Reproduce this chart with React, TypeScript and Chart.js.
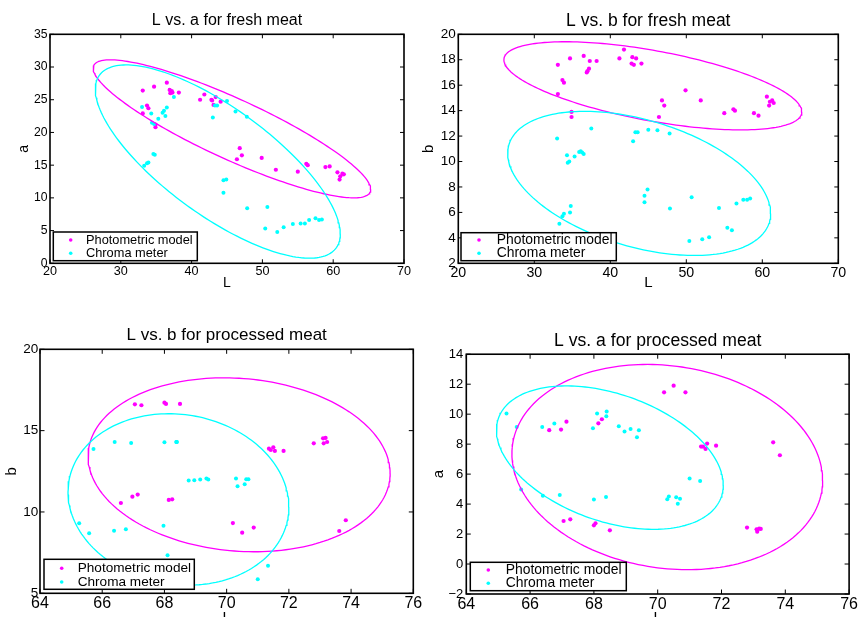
import React, { useEffect, useRef } from 'react';
import { Chart, registerables } from 'chart.js';

Chart.register(...registerables);

const FONT = '"Liberation Sans", Arial, Helvetica, sans-serif';
const MAGENTA = '#ff00ff';
const CYAN = '#00ffff';

// ---------- Fresh meat: Photometric model ----------
const freshPhotoL = [33.1, 33.1, 33.7, 33.9, 34.7, 34.9, 34.9, 36.5, 36.9, 37.0, 37.2, 37.3, 38.2, 41.2, 41.8, 42.8, 42.9, 43.1, 43.4, 44.1, 46.4, 46.8, 47.1, 49.9, 51.9, 55.0, 56.2, 56.4, 58.9, 59.5, 60.6, 60.9, 61.0, 61.3, 61.5];
const freshPhotoA = [26.4, 22.9, 24.1, 23.7, 27.0, 21.2, 20.8, 27.6, 26.5, 26.0, 26.3, 26.1, 26.1, 25.0, 25.8, 25.0, 24.9, 24.2, 25.4, 24.7, 15.9, 17.6, 16.5, 16.1, 14.3, 14.0, 15.2, 15.0, 14.7, 14.8, 13.9, 12.8, 13.3, 13.7, 13.6];
const freshPhotoB = [17.6, 15.3, 16.4, 16.2, 18.1, 13.9, 13.5, 18.3, 17.0, 17.1, 17.3, 17.9, 17.9, 18.1, 18.8, 17.7, 18.2, 17.6, 18.1, 17.7, 13.5, 14.8, 14.4, 15.6, 14.8, 13.8, 14.1, 14.0, 13.8, 13.6, 15.1, 14.4, 14.7, 14.8, 14.6];

// ---------- Fresh meat: Chroma meter ----------
const freshChromaL = [33.0, 33.3, 33.7, 33.9, 34.3, 34.4, 34.6, 34.7, 34.8, 35.3, 35.9, 36.1, 36.3, 36.5, 37.5, 43.0, 43.3, 43.6, 44.5, 44.5, 44.9, 45.0, 46.2, 47.8, 47.85, 50.4, 50.7, 52.1, 53.0, 54.3, 55.4, 56.0, 56.6, 57.5, 58.0, 58.4];
const freshChromaA = [23.9, 14.9, 15.3, 15.4, 22.9, 21.5, 16.7, 21.3, 16.6, 22.1, 23.0, 23.3, 22.5, 23.8, 25.4, 22.3, 24.1, 24.1, 12.7, 10.8, 12.8, 24.8, 23.2, 22.4, 8.4, 5.3, 8.6, 4.8, 5.5, 6.0, 6.1, 6.1, 6.6, 6.9, 6.6, 6.7];
const freshChromaB = [11.8, 5.1, 5.7, 5.9, 10.5, 9.9, 10.0, 6.0, 6.5, 10.4, 10.75, 10.8, 10.7, 10.6, 12.6, 11.6, 12.3, 12.3, 7.3, 6.8, 7.8, 12.5, 12.45, 12.2, 6.3, 3.75, 7.2, 3.9, 4.05, 6.35, 4.8, 4.6, 6.7, 7.0, 7.0, 7.1];

// ---------- Processed meat: Photometric model ----------
const procPhotoL = [66.6, 66.97, 67.05, 67.14, 67.26, 68.0, 68.05, 68.14, 68.25, 68.5, 70.2, 70.5, 70.87, 71.36, 71.42, 71.5, 71.55, 71.83, 72.8, 73.1, 73.12, 73.18, 73.23, 73.62, 73.83];
const procPhotoB = [10.55, 10.94, 16.62, 11.07, 16.56, 16.72, 16.64, 10.74, 10.78, 16.64, 9.32, 8.73, 9.04, 13.89, 13.81, 13.98, 13.75, 13.75, 14.22, 14.53, 14.22, 14.55, 14.3, 8.83, 9.49];
const procPhotoA = [8.93, 8.97, 2.87, 9.5, 2.98, 2.58, 2.72, 9.39, 9.66, 2.25, 11.46, 11.9, 11.46, 7.84, 7.84, 7.68, 8.04, 7.9, 2.43, 2.32, 2.16, 2.36, 2.34, 8.12, 7.26];

// ---------- Processed meat: Chroma meter ----------
const procChromaL = [65.26, 65.58, 65.72, 66.38, 66.4, 66.76, 66.93, 67.97, 68.0, 68.1, 68.38, 68.39, 68.4, 68.78, 68.96, 69.15, 69.35, 69.41, 70.3, 70.35, 70.58, 70.63, 70.7, 71.0, 71.33];
const procChromaB = [9.3, 8.69, 13.87, 8.85, 14.3, 8.93, 14.24, 9.16, 14.28, 7.34, 14.3, 14.3, 14.3, 11.93, 11.95, 11.99, 12.05, 11.99, 12.05, 11.58, 11.7, 12.01, 12.01, 5.86, 6.7];
const procChromaA = [10.04, 9.15, 4.97, 9.15, 4.56, 9.37, 4.61, 9.06, 4.3, 10.04, 4.48, 9.86, 10.17, 9.19, 8.84, 9.01, 8.46, 8.93, 4.32, 4.5, 4.45, 4.03, 4.36, 5.7, 5.54];

// ---------- Confidence ellipses: [centre x, centre y, half-span x, y shift at extreme x, half vertical chord at centre] ----------
const ellFreshAPhoto = [45.7, 20.55, 19.6, -9.25, 5.07];
const ellFreshAChroma = [43.7, 15.55, 17.3, -11.05, 9.8];
const ellFreshBPhoto = [45.6, 15.95, 19.6, -2.04, 2.8];
const ellFreshBChroma = [43.8, 8.28, 17.3, -2.36, 5.15];
const ellProcBPhoto = [70.4, 12.9, 4.855, -0.53, 5.32];
const ellProcBChroma = [68.45, 10.77, 3.55, -0.46, 5.25];
const ellProcAPhoto = [70.3, 6.47, 4.87, -0.89, 6.79];
const ellProcAChroma = [68.5, 7.1, 3.555, -1.835, 4.42];

// ---------- Tick values ----------
const freshLTicks = [20, 30, 40, 50, 60, 70];
const freshATicks = [0, 5, 10, 15, 20, 25, 30, 35];
const freshBTicks = [2, 4, 6, 8, 10, 12, 14, 16, 18, 20];
const procLTicks = [64, 66, 68, 70, 72, 74, 76];
const procBTicks = [5, 10, 15, 20];
const procATicks = [-2, 0, 2, 4, 6, 8, 10, 12, 14];

const legendLabels = ['Photometric model', 'Chroma meter'];

function zip(xs: number[], ys: number[]) {
  return xs.map((x, i) => ({ x, y: ys[i] }));
}

function ellipsePoints(p: number[]) {
  const [cx, cy, ux, uy, h] = p;
  const pts: { x: number; y: number }[] = [];
  const n = 200;
  for (let i = 0; i <= n; i++) {
    const t = (i / n) * Math.PI * 2;
    pts.push({ x: cx + ux * Math.cos(t), y: cy + uy * Math.cos(t) + h * Math.sin(t) });
  }
  return pts;
}

const fmtTick = (v: any) => {
  const n = Number(v);
  return n < 0 ? '\u2212' + Math.abs(n) : String(n);
};

const boxPlugin = {
  id: 'matlabBox',
  afterDatasetsDraw(chart: any, _args: any, o: any) {
    const { ctx, chartArea: a, scales } = chart;
    ctx.save();
    ctx.strokeStyle = '#000';
    ctx.lineWidth = o.tickWidth;
    const tl = o.tickLen;
    ctx.beginPath();
    scales.x.ticks.forEach((t: any) => {
      const px = scales.x.getPixelForValue(t.value);
      ctx.moveTo(px, a.bottom);
      ctx.lineTo(px, a.bottom - tl);
      ctx.moveTo(px, a.top);
      ctx.lineTo(px, a.top + tl);
    });
    scales.y.ticks.forEach((t: any) => {
      const py = scales.y.getPixelForValue(t.value);
      ctx.moveTo(a.left, py);
      ctx.lineTo(a.left + tl, py);
      ctx.moveTo(a.right, py);
      ctx.lineTo(a.right - tl, py);
    });
    ctx.stroke();
    ctx.lineWidth = o.boxWidth;
    ctx.strokeRect(a.left, a.top, a.right - a.left, a.bottom - a.top);
    ctx.restore();
  },
};

const legendPlugin = {
  id: 'boxLegend',
  afterDraw(chart: any, _args: any, o: any) {
    const { ctx, chartArea: a } = chart;
    const x0 = a.left + o.dx;
    const y0 = a.bottom - o.dy - o.h;
    ctx.save();
    ctx.fillStyle = '#fff';
    ctx.fillRect(x0, y0, o.w, o.h);
    ctx.lineWidth = o.lineWidth;
    ctx.strokeStyle = '#000';
    ctx.strokeRect(x0, y0, o.w, o.h);
    ctx.font = `${o.size}px ${FONT}`;
    ctx.textBaseline = 'middle';
    ctx.textAlign = 'left';
    legendLabels.forEach((lbl, i) => {
      const d = chart.data.datasets.find((ds: any) => ds.label === lbl);
      if (!d) return;
      const y = y0 + o.rows[i];
      ctx.fillStyle = d.backgroundColor;
      ctx.beginPath();
      ctx.arc(x0 + o.markerX, y, o.markerR, 0, Math.PI * 2);
      ctx.fill();
      ctx.fillStyle = '#000';
      ctx.fillText(lbl, x0 + o.textX, y);
    });
    ctx.restore();
  },
};

type PanelCfg = {
  left: number; top: number; w: number; h: number;
  yWidth: number; padRight: number; xHeight: number;
  title: string; titleSize: number; titlePadTop: number; titlePadBottom: number;
  xTickSize: number; yTickSize: number; xTickPad: number; yTickPad: number;
  axisTitleSize: number; xTitlePadBottom: number; yTitlePadTop: number;
  xTitle: string; yTitle: string;
  xTicks: number[]; yTicks: number[];
  photoL: number[]; photoY: number[]; chromaL: number[]; chromaY: number[];
  ellPhoto: number[]; ellChroma: number[];
  legend: any; boxWidth: number; tickLen: number;
};

const panels: PanelCfg[] = [
  {
    left: 0, top: 0, w: 429, h: 300, yWidth: 50, padRight: 25, xHeight: 36.7,
    title: 'L vs. a for fresh meat', titleSize: 16, titlePadTop: 11.4, titlePadBottom: 3.7,
    xTickSize: 12.6, yTickSize: 12.2, xTickPad: 1, yTickPad: 2.5,
    axisTitleSize: 14, xTitlePadBottom: 8.6, yTitlePadTop: 15.6, xTitle: 'L', yTitle: 'a',
    xTicks: freshLTicks, yTicks: freshATicks,
    photoL: freshPhotoL, photoY: freshPhotoA, chromaL: freshChromaL, chromaY: freshChromaA,
    ellPhoto: ellFreshAPhoto, ellChroma: ellFreshAChroma,
    legend: { dx: 3.3, dy: 2.6, w: 144, h: 28.7, markerX: 17.4, textX: 32.7, rows: [8, 21.3], size: 12.8, markerR: 1.8, lineWidth: 1.5 },
    boxWidth: 1.6, tickLen: 4,
  },
  {
    left: 415, top: 0, w: 444, h: 300, yWidth: 43.3, padRight: 20.7, xHeight: 36.7,
    title: 'L vs. b for fresh meat', titleSize: 17.5, titlePadTop: 10.5, titlePadBottom: 2.8,
    xTickSize: 14.2, yTickSize: 13.5, xTickPad: 1, yTickPad: 2.6,
    axisTitleSize: 15, xTitlePadBottom: 7.7, yTitlePadTop: 5, xTitle: 'L', yTitle: 'b',
    xTicks: freshLTicks, yTicks: freshBTicks,
    photoL: freshPhotoL, photoY: freshPhotoB, chromaL: freshChromaL, chromaY: freshChromaB,
    ellPhoto: ellFreshBPhoto, ellChroma: ellFreshBChroma,
    legend: { dx: 2.7, dy: 2.6, w: 155.3, h: 28, markerX: 18, textX: 35.7, rows: [7.3, 20.6], size: 13.9, markerR: 1.8, lineWidth: 1.5 },
    boxWidth: 1.6, tickLen: 4,
  },
  {
    left: 0, top: 300, w: 429, h: 330, yWidth: 40, padRight: 15.7, xHeight: 36.7,
    title: 'L vs. b for processed meat', titleSize: 17, titlePadTop: 24.8, titlePadBottom: 4.1,
    xTickSize: 16, yTickSize: 13.5, xTickPad: 1, yTickPad: 1.7,
    axisTitleSize: 15, xTitlePadBottom: 3, yTitlePadTop: 2.7, xTitle: 'L', yTitle: 'b',
    xTicks: procLTicks, yTicks: procBTicks,
    photoL: procPhotoL, photoY: procPhotoB, chromaL: procChromaL, chromaY: procChromaB,
    ellPhoto: ellProcBPhoto, ellChroma: ellProcBChroma,
    legend: { dx: 4, dy: 4, w: 150.3, h: 30, markerX: 17.7, textX: 33.7, rows: [9, 22.7], size: 13.6, markerR: 1.8, lineWidth: 1.5 },
    boxWidth: 1.6, tickLen: 4.5,
  },
  {
    left: 429, top: 300, w: 430, h: 330, yWidth: 37.3, padRight: 7.3, xHeight: 36,
    title: 'L vs. a for processed meat', titleSize: 17.6, titlePadTop: 30.1, titlePadBottom: 3,
    xTickSize: 16, yTickSize: 13, xTickPad: 1, yTickPad: 3,
    axisTitleSize: 15, xTitlePadBottom: 3, yTitlePadTop: 1, xTitle: 'L', yTitle: 'a',
    xTicks: procLTicks, yTicks: procATicks,
    photoL: procPhotoL, photoY: procPhotoA, chromaL: procChromaL, chromaY: procChromaA,
    ellPhoto: ellProcAPhoto, ellChroma: ellProcAChroma,
    legend: { dx: 4, dy: 3.3, w: 156, h: 28.4, markerX: 18, textX: 35.4, rows: [7.7, 21], size: 13.9, markerR: 1.8, lineWidth: 1.5 },
    boxWidth: 1.6, tickLen: 4.5,
  },
];

function Panel({ cfg }: { cfg: PanelCfg }) {
  const ref = useRef<HTMLCanvasElement>(null);
  useEffect(() => {
    if (!ref.current) return;
    const xT = cfg.xTicks;
    const yT = cfg.yTicks;
    const chart = new Chart(ref.current, {
      type: 'scatter',
      data: {
        datasets: [
          {
            label: 'ellipse chroma', data: ellipsePoints(cfg.ellChroma), showLine: true,
            borderColor: CYAN, borderWidth: 1.3, pointRadius: 0, fill: false, order: 1,
          },
          {
            label: 'ellipse photo', data: ellipsePoints(cfg.ellPhoto), showLine: true,
            borderColor: MAGENTA, borderWidth: 1.3, pointRadius: 0, fill: false, order: 2,
          },
          {
            label: legendLabels[1], data: zip(cfg.chromaL, cfg.chromaY),
            backgroundColor: CYAN, borderWidth: 0, pointRadius: 2, order: 3,
          },
          {
            label: legendLabels[0], data: zip(cfg.photoL, cfg.photoY),
            backgroundColor: MAGENTA, borderWidth: 0, pointRadius: 2.1, order: 4,
          },
        ] as any,
      },
      options: {
        animation: false,
        responsive: false,
        devicePixelRatio: 1,
        events: [],
        layout: { autoPadding: false, padding: { left: 0, top: 0, right: cfg.padRight, bottom: 0 } } as any,
        plugins: {
          legend: { display: false },
          tooltip: { enabled: false },
          title: {
            display: true, text: cfg.title, color: '#000', fullSize: false,
            font: { family: FONT, size: cfg.titleSize, weight: 'normal' as any },
            padding: { top: cfg.titlePadTop, bottom: cfg.titlePadBottom },
          },
          matlabBox: { tickWidth: 1, tickLen: cfg.tickLen, boxWidth: cfg.boxWidth },
          boxLegend: cfg.legend,
        } as any,
        scales: {
          x: {
            type: 'linear', position: 'bottom', min: xT[0], max: xT[xT.length - 1],
            afterBuildTicks: (s: any) => { s.ticks = xT.map((v) => ({ value: v })); },
            afterFit: (s: any) => { s.height = cfg.xHeight; },
            grid: { display: false, drawTicks: false }, border: { display: false },
            ticks: { color: '#000', font: { family: FONT, size: cfg.xTickSize }, padding: cfg.xTickPad, autoSkip: false, maxRotation: 0, minRotation: 0, callback: fmtTick },
            title: {
              display: true, text: cfg.xTitle, color: '#000',
              font: { family: FONT, size: cfg.axisTitleSize }, padding: { top: 0, bottom: cfg.xTitlePadBottom },
            },
          },
          y: {
            type: 'linear', position: 'left', min: yT[0], max: yT[yT.length - 1],
            afterBuildTicks: (s: any) => { s.ticks = yT.map((v) => ({ value: v })); },
            afterFit: (s: any) => { s.width = cfg.yWidth; },
            grid: { display: false, drawTicks: false }, border: { display: false },
            ticks: { color: '#000', font: { family: FONT, size: cfg.yTickSize }, padding: cfg.yTickPad, autoSkip: false, callback: fmtTick },
            title: {
              display: true, text: cfg.yTitle, color: '#000',
              font: { family: FONT, size: cfg.axisTitleSize }, padding: { top: cfg.yTitlePadTop, bottom: 0 },
            },
          },
        } as any,
      },
      plugins: [boxPlugin, legendPlugin],
    });
    return () => chart.destroy();
  }, [cfg]);
  return (
    <canvas
      ref={ref}
      width={cfg.w}
      height={cfg.h}
      style={{ position: 'absolute', left: cfg.left, top: cfg.top, width: cfg.w, height: cfg.h }}
    />
  );
}

export default function App() {
  return (
    <div style={{ position: 'fixed', left: 0, top: 0, width: 859, height: 617, overflow: 'hidden', background: '#fff' }}>
      {panels.map((p, i) => (
        <Panel key={i} cfg={p} />
      ))}
    </div>
  );
}
